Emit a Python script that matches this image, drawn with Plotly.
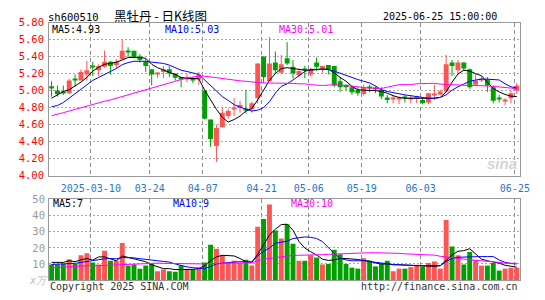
import plotly.graph_objects as go

W, H = 545, 300

# ---------------- data ----------------
opens = [5.05, 5.00, 4.98, 4.97, 5.13, 5.12, 5.19, 5.29, 5.24, 5.28,
         5.34, 5.30, 5.37, 5.46, 5.47, 5.40, 5.34, 5.25, 5.19, 5.22,
         5.25, 5.20, 5.16, 5.14, 5.14, 5.13, 5.00, 4.66, 4.35, 4.57,
         4.70, 4.78, 4.80, 4.78, 4.78, 4.91, 5.40, 5.11, 5.33, 5.21,
         5.38, 5.28, 5.18, 5.25, 5.19, 5.33, 5.26, 5.30, 5.29, 5.11,
         5.07, 5.04, 5.01, 4.96, 5.04, 5.03, 5.01, 4.92, 4.905, 4.90,
         4.92, 4.90, 4.905, 4.89, 4.86, 4.95, 4.955, 4.99, 5.33, 5.24,
         5.33, 5.25, 5.07, 5.12, 5.13, 5.04, 4.905, 4.88, 4.91, 5.00]
highs = [5.11, 5.06, 5.06, 5.14, 5.19, 5.25, 5.35, 5.34, 5.31, 5.47,
         5.35, 5.37, 5.60, 5.51, 5.47, 5.43, 5.37, 5.25, 5.22, 5.29,
         5.29, 5.20, 5.16, 5.20, 5.16, 5.22, 5.00, 4.66, 4.60, 4.80,
         4.79, 4.91, 4.88, 5.01, 4.87, 5.32, 5.40, 5.63, 5.46, 5.42,
         5.57, 5.36, 5.26, 5.29, 5.27, 5.39, 5.29, 5.30, 5.29, 5.16,
         5.07, 5.06, 5.04, 5.07, 5.07, 5.05, 5.04, 4.95, 4.95, 4.93,
         4.95, 4.95, 4.94, 4.91, 4.97, 5.07, 5.01, 5.42, 5.36, 5.36,
         5.33, 5.26, 5.20, 5.17, 5.16, 5.06, 4.95, 4.91, 5.00, 5.09]
lows = [4.93, 4.93, 4.95, 4.96, 5.05, 5.12, 5.12, 5.17, 5.17, 5.27,
        5.19, 5.26, 5.37, 5.40, 5.38, 5.33, 5.22, 5.06, 5.15, 5.15,
        5.16, 5.12, 5.04, 5.10, 5.09, 5.07, 4.66, 4.34, 4.16, 4.57,
        4.67, 4.70, 4.74, 4.73, 4.74, 4.85, 5.09, 5.11, 5.20, 5.20,
        5.30, 5.14, 5.155, 5.145, 5.165, 5.23, 5.21, 5.19, 5.04, 4.985,
        5.00, 4.95, 4.94, 4.94, 4.98, 4.97, 4.90, 4.85, 4.85, 4.84,
        4.86, 4.85, 4.85, 4.84, 4.84, 4.89, 4.95, 4.98, 5.17, 5.20,
        5.23, 5.02, 5.06, 5.10, 4.985, 4.85, 4.86, 4.83, 4.85, 4.96]
closes = [5.03, 4.96, 4.97, 5.12, 5.12, 5.22, 5.24, 5.28, 5.29, 5.34,
          5.29, 5.34, 5.47, 5.45, 5.39, 5.36, 5.29, 5.19, 5.20, 5.25,
          5.20, 5.15, 5.13, 5.15, 5.13, 5.19, 4.67, 4.43, 4.56, 4.74,
          4.76, 4.79, 4.83, 4.77, 4.85, 5.32, 5.16, 5.32, 5.24, 5.31,
          5.32, 5.20, 5.23, 5.24, 5.25, 5.28, 5.29, 5.25, 5.06, 5.04,
          5.04, 4.98, 4.97, 5.04, 5.035, 5.02, 4.93, 4.89, 4.91, 4.91,
          4.91, 4.91, 4.93, 4.855, 4.97, 4.96, 4.99, 5.31, 5.29, 5.33,
          5.26, 5.04, 5.12, 5.14, 5.06, 4.88, 4.90, 4.885, 4.97, 5.06]
volumes = [9.7, 9.7, 10.1, 13.0, 10.0, 15.4, 16.6, 11.0, 9.7, 18.3,
           12.0, 12.0, 23.1, 9.0, 9.7, 7.1, 9.0, 10.0, 5.5, 6.5,
           5.5, 5.1, 9.0, 6.5, 6.5, 7.7, 11.0, 21.9, 19.5, 15.4,
           10.6, 12.0, 10.6, 12.6, 9.0, 33.1, 38.0, 46.9, 30.8, 25.8,
           34.7, 22.5, 12.0, 12.0, 15.4, 14.0, 9.7, 10.0, 18.9, 16.0,
           10.0, 7.7, 7.1, 13.6, 12.0, 8.5, 10.0, 12.0, 5.5, 7.1,
           7.1, 8.1, 9.5, 8.5, 10.6, 11.6, 7.1, 37.3, 20.9, 15.4,
           9.7, 17.4, 12.6, 9.0, 9.0, 10.6, 5.9, 7.1, 7.7, 7.7]

ma5 = [4.91, 4.95, 4.99, 5.01, 5.05, 5.10, 5.155, 5.23, 5.275, 5.31,
       5.32, 5.335, 5.36, 5.39, 5.39, 5.39, 5.38, 5.31, 5.27, 5.24,
       5.215, 5.19, 5.155, 5.145, 5.14, 5.14, 5.005, 4.89, 4.78, 4.685,
       4.63, 4.66, 4.70, 4.76, 4.79, 4.89, 5.005, 5.12, 5.20, 5.26,
       5.27, 5.26, 5.255, 5.24, 5.24, 5.25, 5.255, 5.25, 5.21, 5.155,
       5.11, 5.05, 5.01, 5.005, 5.005, 5.00, 4.99, 4.97, 4.94, 4.92,
       4.91, 4.91, 4.905, 4.905, 4.91, 4.91, 4.92, 4.985, 5.10, 5.195,
       5.24, 5.23, 5.20, 5.175, 5.10, 5.025, 4.985, 4.955, 4.935, 4.93]
ma10 = [4.81, 4.825, 4.86, 4.91, 4.96, 5.01, 5.07, 5.12, 5.155, 5.19,
        5.23, 5.26, 5.305, 5.33, 5.345, 5.345, 5.345, 5.335, 5.325, 5.32,
        5.30, 5.27, 5.24, 5.225, 5.21, 5.19, 5.125, 5.06, 4.995, 4.93,
        4.885, 4.835, 4.805, 4.78, 4.76, 4.77, 4.80, 4.87, 4.97, 5.05,
        5.08, 5.125, 5.175, 5.225, 5.25, 5.25, 5.25, 5.25, 5.23, 5.205,
        5.175, 5.155, 5.13, 5.11, 5.09, 5.055, 5.01, 4.99, 4.975, 4.96,
        4.95, 4.94, 4.93, 4.92, 4.91, 4.91, 4.92, 4.95, 5.005, 5.045,
        5.08, 5.11, 5.125, 5.135, 5.135, 5.13, 5.125, 5.08, 5.045, 5.03]
ma30 = [4.705, 4.72, 4.74, 4.76, 4.78, 4.80, 4.815, 4.835, 4.855, 4.875,
        4.89, 4.91, 4.93, 4.95, 4.97, 4.99, 5.01, 5.03, 5.05, 5.07,
        5.09, 5.11, 5.13, 5.15, 5.16, 5.17, 5.17, 5.16, 5.15, 5.14,
        5.13, 5.12, 5.115, 5.11, 5.10, 5.095, 5.09, 5.09, 5.09, 5.09,
        5.09, 5.085, 5.08, 5.08, 5.07, 5.065, 5.06, 5.065, 5.07, 5.065,
        5.06, 5.055, 5.045, 5.035, 5.03, 5.025, 5.025, 5.04, 5.055, 5.07,
        5.07, 5.07, 5.08, 5.085, 5.085, 5.085, 5.075, 5.07, 5.07, 5.065,
        5.065, 5.06, 5.06, 5.06, 5.055, 5.05, 5.045, 5.04, 5.03, 5.02]

vma5 = [11.0, 11.0, 11.0, 12.0, 11.4, 12.6, 13.4, 12.4, 14.4, 14.4,
        13.4, 12.0, 15.0, 14.0, 13.4, 12.0, 11.4, 9.5, 8.1, 7.1,
        7.1, 6.5, 6.5, 6.5, 6.7, 7.1, 9.0, 12.0, 14.4, 15.4,
        15.4, 15.0, 13.4, 11.4, 11.0, 16.0, 21.9, 28.0, 31.6, 34.5,
        34.7, 31.0, 24.0, 19.9, 17.6, 15.6, 13.0, 12.2, 12.6, 13.4,
        13.4, 13.2, 12.8, 12.2, 11.8, 10.6, 10.0, 10.0, 9.5, 9.5,
        9.3, 9.1, 8.9, 8.5, 8.5, 8.5, 8.9, 12.0, 15.6, 17.9,
        18.3, 19.5, 16.4, 13.0, 12.0, 11.4, 10.5, 9.2, 8.6, 8.0]
vma10 = [9.7, 9.8, 10.0, 10.2, 10.4, 11.0, 11.6, 12.3, 12.8, 13.2,
         13.4, 13.2, 14.0, 14.0, 13.8, 13.3, 13.0, 12.3, 12.0, 11.6,
         11.2, 10.0, 9.0, 8.2, 7.7, 7.4, 7.1, 8.5, 10.0, 10.5,
         11.0, 11.2, 11.4, 11.4, 11.4, 15.0, 17.9, 19.9, 22.9, 23.5,
         24.2, 25.8, 26.4, 26.8, 26.6, 25.8, 23.9, 20.0, 16.5, 13.5,
         12.5, 12.0, 12.0, 12.0, 11.5, 11.0, 10.8, 10.2, 9.7, 9.5,
         9.2, 9.0, 9.0, 9.0, 9.0, 9.0, 9.0, 11.5, 13.5, 14.2,
         14.4, 14.5, 14.6, 14.6, 14.6, 14.6, 12.5, 11.0, 10.3, 10.0]
vma30 = [7.7, 7.8, 7.9, 8.1, 8.4, 8.8, 9.0, 9.0, 9.0, 9.1,
         9.3, 9.5, 9.6, 9.8, 10.0, 10.0, 10.1, 10.3, 10.5, 10.4,
         10.3, 10.2, 10.0, 10.0, 10.0, 10.0, 10.0, 10.3, 10.4, 10.4,
         10.4, 10.4, 10.5, 10.6, 10.8, 12.0, 13.0, 13.5, 14.0, 14.5,
         15.0, 15.4, 15.4, 15.4, 15.5, 15.6, 15.8, 16.0, 16.2, 16.3,
         16.4, 16.5, 16.6, 16.8, 17.0, 17.0, 17.0, 17.0, 17.0, 16.6,
         16.3, 16.1, 16.0, 16.0, 15.8, 15.5, 14.8, 14.3, 14.0, 13.5,
         13.0, 12.6, 12.2, 12.0, 11.8, 11.4, 11.0, 10.5, 10.5, 10.4]

tick_idx = [7, 17, 26, 36, 44, 53, 63, 79]
tick_labels = ["2025-03-10", "03-24", "04-07", "04-21", "05-06", "05-19", "06-03", "06-25"]
price_ticks = [4.00, 4.20, 4.40, 4.60, 4.80, 5.00, 5.20, 5.40, 5.60, 5.80]
vol_ticks = [10, 20, 30, 40, 50]

symbol = "sh600510"
title_cn = "黑牡丹 - 日K线图"
stamp = "2025-06-25 15:00:00"
ma_legend = [("MA5", "4.93"), ("MA10", "5.03"), ("MA30", "5.01")]
vma_legend = [("MA5", "7"), ("MA10", "9"), ("MA30", "10")]

# ---------------- styling ----------------
MONO = "DejaVu Sans Mono"
UP = "#ff5454"
DOWN = "#00a000"
MA_COLORS = ["#000000", "#0000ff", "#ff00ff"]
HGRID = "#a8a8a8"
VGRID = "#8c8c8c"
FRAME = "#999999"

# geometry (pixels)
PX_L, PX_R = 50, 530
MAIN_TOP, MAIN_BOT = 17.3, 176.7
VOL_TOP, VOL_BOT = 201.0, 285.5
N = len(closes)
idx = list(range(N))
xr = [-5 / 12, 80 - 5 / 12]
px_per_price = (MAIN_BOT - MAIN_TOP) / (5.8 - 4.0)
min_h = 1.0 / px_per_price

up = [c >= o for o, c in zip(opens, closes)]
cols = [UP if u else DOWN for u in up]

body_base, body_h = [], []
for o, c in zip(opens, closes):
    lo, hi = min(o, c), max(o, c)
    if hi - lo < min_h:
        mid = (lo + hi) / 2
        body_base.append(mid - min_h / 2)
        body_h.append(min_h)
    else:
        body_base.append(lo)
        body_h.append(hi - lo)

fig = go.Figure()

# wicks
for want, col in [(True, UP), (False, DOWN)]:
    wx, wy = [], []
    for i in idx:
        if up[i] == want:
            wx += [i, i, None]
            wy += [lows[i], highs[i], None]
    fig.add_trace(go.Scatter(x=wx, y=wy, mode="lines", line=dict(color=col, width=1),
                             hoverinfo="skip", xaxis="x", yaxis="y"))

# bodies
fig.add_trace(go.Bar(x=idx, y=body_h, base=body_base, width=5 / 6, marker_color=cols,
                     marker_line_width=0, xaxis="x", yaxis="y"))

# price MAs
for arr, col in zip([ma5, ma10, ma30], MA_COLORS):
    fig.add_trace(go.Scatter(x=idx, y=arr, mode="lines", line=dict(color=col, width=1),
                             xaxis="x", yaxis="y"))

# volume
fig.add_trace(go.Bar(x=idx, y=volumes, width=5 / 6, marker_color=cols,
                     marker_line_width=0, xaxis="x2", yaxis="y2"))
for arr, col in zip([vma5, vma10, vma30], MA_COLORS):
    fig.add_trace(go.Scatter(x=idx, y=arr, mode="lines", line=dict(color=col, width=1),
                             xaxis="x2", yaxis="y2"))

xdom = [PX_L / W, PX_R / W]
tickpos = [t - 1 / 3 for t in tick_idx]

common_x = dict(domain=xdom, range=xr, tickvals=tickpos, showgrid=True, griddash="4px,3px",
                gridcolor=VGRID, gridwidth=1, showline=True, mirror=True, linecolor=FRAME,
                linewidth=1, zeroline=False, ticks="", fixedrange=True)

fig.update_layout(
    width=W, height=H, margin=dict(l=0, r=0, t=0, b=0),
    paper_bgcolor="white", plot_bgcolor="white", showlegend=False,
    xaxis=dict(**common_x, anchor="y", ticktext=tick_labels,
               tickfont=dict(family=MONO, size=10, color="#1e78c8"), ticklabelstandoff=3),
    yaxis=dict(domain=[1 - MAIN_BOT / H, 1 - MAIN_TOP / H], range=[4.0, 5.8],
               tickvals=price_ticks, ticktext=["%.2f" % v for v in price_ticks],
               tickfont=dict(family=MONO, size=10.5, color="#ff0000"),
               showgrid=True, griddash="2px,2px", gridcolor=HGRID, showline=True, mirror=True,
               linecolor=FRAME, zeroline=False, ticks="", ticklabelstandoff=2, anchor="x"),
    xaxis2=dict(**common_x, anchor="y2", showticklabels=False, matches="x"),
    yaxis2=dict(domain=[1 - VOL_BOT / H, 1 - VOL_TOP / H], range=[0, 50.4],
                tickvals=vol_ticks, ticktext=[str(v) for v in vol_ticks],
                tickfont=dict(family=MONO, size=10.5, color="#999999"),
                showgrid=True, griddash="2px,2px", gridcolor=HGRID, showline=True, mirror=True,
                linecolor=FRAME, zeroline=False, ticks="", ticklabelstandoff=1, anchor="x2"),
)


def ann(text, x, y, color="#000000", size=10, xanchor="left", family=MONO, **kw):
    fig.add_annotation(text=text, x=x / W, y=1 - y / H, xref="paper", yref="paper",
                       xanchor=xanchor, yanchor="middle", showarrow=False,
                       font=dict(family=family, size=size, color=color, **kw))


ann(symbol, 47, 11, "#000000", 10.5)
ann(title_cn, 164, 9.5, "#000000", 12.5, xanchor="center", family="Noto Sans CJK SC")
ann(stamp, 508, 11, "#000000", 10, xanchor="right")

for (name, val), col, x in zip(ma_legend, MA_COLORS, [51, 166, 282]):
    ann(f"{name}:{val}", x, 24.5, col, 10)
for (name, val), col, x in zip(vma_legend, MA_COLORS, [52, 174, 294]):
    ann(f"{name}:{val}", x, 206, col, 10)

ann("x万", 27, 286, "#bbbbbb", 10, style="italic")
ann("Copyright 2025 SINA.COM", 49, 292, "#333333", 10)
ann("http://finance.sina.com.cn", 530, 292, "#333333", 10, xanchor="right")
ann("sina", 511, 164, "#d4d4d4", 15, xanchor="center", family="Liberation Sans",
    style="italic", weight="bold")

fig.write_html("out.html")
